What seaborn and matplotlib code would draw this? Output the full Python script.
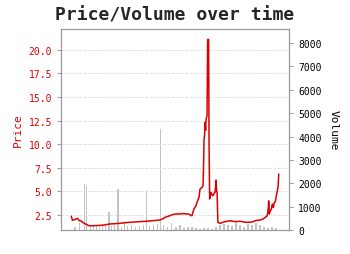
import matplotlib
matplotlib.use("Agg")
import matplotlib.pyplot as plt
import seaborn as sns
import pandas as pd
import numpy as np

# ---- data ----
price_day = [0, 6, 16, 26, 31, 36, 41, 51, 56, 66, 76, 86, 101, 116, 141, 166, 191, 216, 241, 266,
             291, 316, 341, 366, 391, 416, 441, 456, 466, 481, 491, 506, 516, 531, 541, 556, 571, 586,
             596, 601, 606, 611, 621, 626, 631, 636, 641, 646, 651, 656, 659, 661, 664, 666, 669, 671,
             676, 679, 684, 686, 689, 691, 696, 701, 706, 711, 716, 721, 724, 726, 730, 736, 741, 751,
             766, 781, 791, 801, 816, 831, 841, 856, 866, 881, 891, 906, 916, 931, 941, 956, 966, 976,
             981, 983, 986, 991, 996, 1001, 1006, 1011, 1016, 1021, 1026, 1030, 1033]
price_val = [2.37, 1.95, 2.0, 2.1, 2.15, 2.0, 1.9, 1.85, 1.73, 1.6, 1.5, 1.38, 1.35, 1.38, 1.4, 1.45,
             1.55, 1.58, 1.62, 1.68, 1.73, 1.76, 1.8, 1.83, 1.87, 1.92, 1.97, 2.1, 2.25, 2.35, 2.43,
             2.55, 2.6, 2.62, 2.6, 2.65, 2.62, 2.6, 2.45, 2.43, 2.8, 3.13, 3.5, 3.84, 4.1, 4.37, 5.25,
             5.35, 5.43, 5.6, 8.0, 10.5, 11.0, 12.3, 11.5, 12.65, 13.0, 21.1, 21.1, 10.0, 4.2, 4.5,
             4.9, 4.6, 4.55, 4.8, 4.9, 6.2, 5.0, 4.9, 1.73, 1.65, 1.62, 1.7, 1.8, 1.85, 1.9, 1.85,
             1.8, 1.82, 1.83, 1.78, 1.73, 1.75, 1.73, 1.8, 1.9, 1.95, 1.97, 2.1, 2.25, 2.43, 3.2,
             4.0, 2.6, 2.96, 3.1, 3.66, 3.3, 3.84, 3.9, 4.55, 5.07, 5.5, 6.84]

vol_day = [20, 40, 66, 75, 95, 110, 125, 140, 155, 170, 188, 200, 215, 233, 250, 266, 280, 300, 320,
           340, 360, 375, 390, 410, 430, 445, 460, 480, 500, 520, 540, 560, 580, 600, 620, 640, 660,
           680, 700, 720, 740, 760, 780, 800, 820, 840, 860, 880, 900, 920, 940, 960, 980, 1000, 1020]
vol_val = [150, 300, 1966, 1900, 120, 200, 180, 150, 220, 180, 756, 160, 200, 1752, 150, 400, 180,
           200, 150, 170, 220, 1710, 160, 200, 250, 4316, 220, 150, 300, 130, 200, 100, 150, 120, 80,
           60, 100, 80, 60, 150, 200, 250, 200, 180, 300, 200, 120, 250, 200, 300, 220, 150, 100,
           120, 80]

price_df = pd.DataFrame({"day": price_day, "Price": price_val})
vol_df = pd.DataFrame({"day": vol_day, "Volume": vol_val})

sns.set_style("white")
plt.rcParams["font.family"] = ["DejaVu Sans Mono", "DejaVu Sans"]

fig = plt.figure(figsize=(3.5, 2.55), dpi=100)
ax = fig.add_axes([0.174, 0.094, 0.652, 0.788])
ax2 = ax.twinx()

ax2.bar(vol_df["day"], vol_df["Volume"], width=8, color="#b4b4b4", alpha=0.8, linewidth=0)
ax2.set_ylim(0, 8600)
ax2.set_ylabel("Volume", rotation=270, labelpad=12, fontsize=8, color="black")
ax2.tick_params(axis="y", labelsize=7, colors="#888888", labelcolor="black", length=3, width=0.6)

sns.lineplot(data=price_df, x="day", y="Price", ax=ax, color="#dd0000", linewidth=1.1)
ax.set_zorder(ax2.get_zorder() + 1)
ax.patch.set_visible(False)
ax.set_ylim(0.91, 22.2)
ticks = np.arange(2.5, 20.01, 2.5)
ax.set_yticks(ticks)
ax.set_yticklabels([f"{v:.1f}" for v in ticks])
ax.set_xticks([0, 300, 600, 900])
ax.set_xticklabels([])
ax.set_xlabel("")
ax.set_ylabel("Price", color="#dd0000", fontsize=8)
ax.tick_params(axis="y", labelsize=7, colors="#888888", labelcolor="#dd0000", length=3, width=0.6)
ax.tick_params(axis="x", colors="#888888", length=3, width=0.6)
ax.grid(axis="y", linestyle="--", color="#dddddd", linewidth=0.6)
ax.set_axisbelow(True)

for a in (ax, ax2):
    for s in a.spines.values():
        s.set_color("#999999")
        s.set_linewidth(0.8)

fig.suptitle("Price/Volume over time", fontsize=13, fontweight="bold", y=0.975, x=0.5)
fig.savefig("out.png", dpi=100)
